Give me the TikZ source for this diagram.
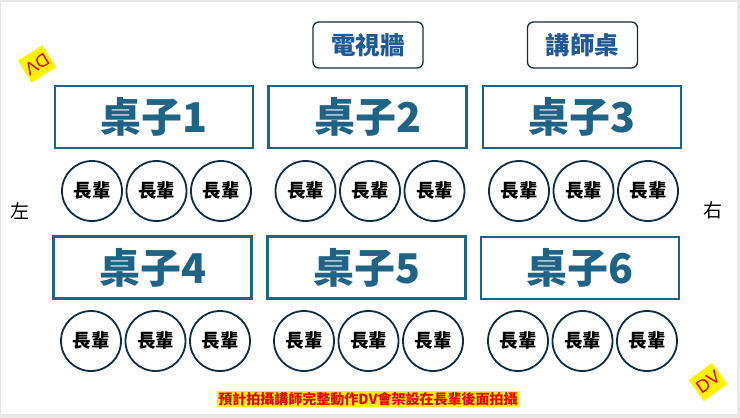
\documentclass[tikz,border=0pt]{standalone}
\usepackage{fontspec}
\setmainfont{Noto Sans CJK TC}
\newfontfamily\dvfont{Liberation Sans}
\definecolor{deskblue}{RGB}{31,100,135}
\definecolor{navy}{RGB}{16,45,68}
\definecolor{tvblue}{RGB}{30,90,150}
\definecolor{dvred}{RGB}{230,0,0}
\begin{document}
\begin{tikzpicture}[x=1pt,y=-1pt,
	desk/.style={draw=deskblue,line width=2.2pt,minimum width=198pt,minimum height=62pt,inner sep=0pt,text=deskblue,font=\fontsize{41}{42}\selectfont\bfseries},
	elder/.style={circle,draw=navy,line width=1.8pt,minimum size=60pt,inner sep=0pt,font=\fontsize{18.5}{19}\selectfont\bfseries},
	front/.style={draw=navy,line width=1.3pt,rounded corners=6pt,minimum width=110pt,minimum height=46pt,inner sep=0pt,text=tvblue,font=\fontsize{24.5}{25}\selectfont\bfseries},
	cam/.style={fill=yellow,text=dvred,minimum width=29pt,minimum height=26pt,inner sep=0pt,font=\dvfont\fontsize{18}{18}\selectfont},
	side/.style={font=\fontsize{19}{19}\selectfont}]
		\useasboundingbox (0,0) rectangle (740,418);
		\fill[gray!18] (0,0) rectangle (740,418);
		\fill[white] (1,2) rectangle (737,414);
		\path
		(368,45) node[front] (tv) {電視牆}
		(582.5,45) node[front] (lectern) {講師桌}
		(154,117) node[desk] (desk1) {桌子1}
		(367.5,117) node[desk] (desk2) {桌子2}
		(582,117) node[desk] (desk3) {桌子3}
		(152.5,267.5) node[desk] (desk4) {桌子4}
		(366.5,267.5) node[desk] (desk5) {桌子5}
		(580,268) node[desk] (desk6) {桌子6}
		(20,211) node[side] (left) {左}
		(713,210) node[side] (right) {右}
		(37,64) node[cam,rotate=212] (dvA) {DV}
		(708,382) node[cam,rotate=36] (dvB) {DV}
		(368,399) node[fill=yellow,text=dvred,inner sep=1pt,font=\fontsize{14}{14}\selectfont\bfseries] (note) {預計拍攝講師完整動作DV會架設在長輩後面拍攝}
		;
		\foreach \t/\x/\y in {1/92/191,2/305.5/191,3/519/191,4/91/341,5/304/341,6/518/341}
		\foreach \s in {0,1,2}
		\node[elder] (seat\t\s) at (\x+64.5*\s,\y) {長輩};
	
\end{tikzpicture}
\end{document}
